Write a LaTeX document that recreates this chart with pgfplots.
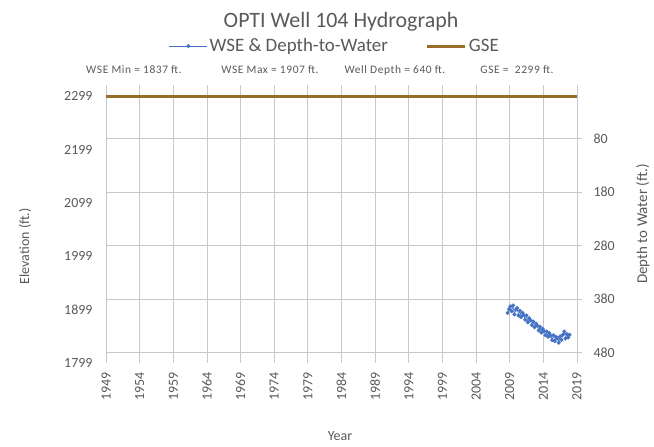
\documentclass[border=0pt]{standalone}
\usepackage{pgfplots}
\pgfplotsset{compat=1.18}
\usepackage{fontspec}
\setmainfont{Carlito}
\definecolor{wse}{RGB}{68,114,196}
\definecolor{gse}{RGB}{150,110,40}
\definecolor{gridc}{RGB}{200,200,200}
\definecolor{txt}{RGB}{89,89,89}
\begin{document}
\begin{tikzpicture}
\useasboundingbox (0,0) rectangle (654bp,447bp);
% right (depth) axis first, carries horizontal grid
\begin{axis}[at={(106bp,84bp)}, anchor=south west, scale only axis,
  width=471bp, height=278bp,
  xmin=1949, xmax=2019, ymin=-21, ymax=500, y dir=reverse,
  axis x line=none, axis y line*=right,
  ytick={80,180,...,480},
  ymajorgrids, grid style={gridc, line width=0.8pt},
  y axis line style={gridc, line width=0.8pt, -},
  ytick style={gridc, line width=0.8pt}, tick align=outside, major tick length=5bp,
  yticklabel style={font=\fontsize{14}{14}\selectfont, text=txt, xshift=8bp},
  /pgf/number format/assume math mode=true,
  ylabel={Depth to Water (ft.)},
  ylabel style={at={(axis description cs:1.14,0.5)}, anchor=center, font=\fontsize{15}{15}\selectfont, text=txt},
]
\addplot[draw=none] coordinates {(2000,100)};
\end{axis}
\begin{axis}[at={(106bp,84bp)}, anchor=south west, scale only axis,
  width=471bp, height=278bp,
  xmin=1949, xmax=2019, ymin=1799, ymax=2320,
  xtick={1949,1954,1959,1964,1969,1974,1979,1984,1989,1994,1999,2004,2009,2014,2019},
  ytick={1799,1899,1999,2099,2199,2299},
  xmajorgrids, grid style={gridc, line width=0.8pt},
  axis line style={draw=none}, major tick length=0pt,
  /pgf/number format/assume math mode=true,
  /pgf/number format/1000 sep={},
  xticklabel style={rotate=90, anchor=east, font=\fontsize{14}{14}\selectfont, text=txt, xshift=-6bp},
  yticklabel style={font=\fontsize{14}{14}\selectfont, text=txt, xshift=-10bp},
  xlabel={Year}, ylabel={Elevation (ft.)},
  xlabel style={at={(axis description cs:0.497,-0.262)}, anchor=center, font=\fontsize{14}{14}\selectfont, text=txt},
  ylabel style={at={(axis description cs:-0.172,0.42)}, anchor=center, font=\fontsize{14}{14}\selectfont, text=txt},
  legend style={at={(axis description cs:0.486,1.14)}, anchor=center, draw=none, fill=none,
    font=\fontsize{19}{19}\selectfont, text=txt, legend columns=2,
    /tikz/every even column/.append style={column sep=36bp}},
  legend cell align=left,
  legend image code/.code={\draw[mark repeat=2, mark phase=2, #1] plot coordinates {(0bp,0bp) (19bp,0bp) (38bp,0bp)};},
]
\addplot[wse, line width=0.6pt, mark=*, mark size=1.7pt, mark options={fill=wse, draw=wse}] coordinates {
(2008.7,1893) (2008.9,1900) (2009.1,1905) (2009.3,1896) (2009.5,1907)
(2009.7,1890) (2009.9,1899) (2010.1,1902) (2010.3,1888) (2010.5,1897)
(2010.7,1885) (2010.9,1893) (2011.1,1889) (2011.3,1880) (2011.5,1888)
(2011.7,1875) (2011.9,1883) (2012.1,1879) (2012.3,1870) (2012.5,1877)
(2012.7,1866) (2012.9,1873) (2013.1,1869) (2013.3,1860) (2013.5,1867)
(2013.7,1856) (2013.9,1863) (2014.1,1859) (2014.3,1851) (2014.5,1858)
(2014.7,1848) (2014.9,1855) (2015.1,1850) (2015.3,1842) (2015.5,1851)
(2015.7,1840) (2015.9,1848) (2016.1,1845) (2016.3,1837) (2016.5,1849)
(2016.7,1842) (2016.9,1852) (2017.1,1858) (2017.3,1845) (2017.5,1853)
(2017.7,1847) (2017.9,1852)
};
\addlegendentry{WSE \& Depth-to-Water}
\addplot[gse, line width=3pt] coordinates {(1949,2299) (2019,2299)};
\addlegendentry{GSE}
\end{axis}
\node[text=txt, font=\fontsize{22}{22}\selectfont] at (341bp,425bp) {OPTI Well 104 Hydrograph};
\begin{scope}[every node/.style={text=txt, font=\fontsize{11.5}{11.5}\selectfont\addfontfeatures{LetterSpace=5}, inner sep=0pt}]
\node at (134bp,377bp) {WSE Min = 1837 ft.};
\node at (270bp,377bp) {WSE Max = 1907 ft.};
\node at (395bp,377bp) {Well Depth = 640 ft.};
\node at (517bp,377bp) {GSE =\ \ 2299 ft.};
\end{scope}
\end{tikzpicture}
\end{document}
